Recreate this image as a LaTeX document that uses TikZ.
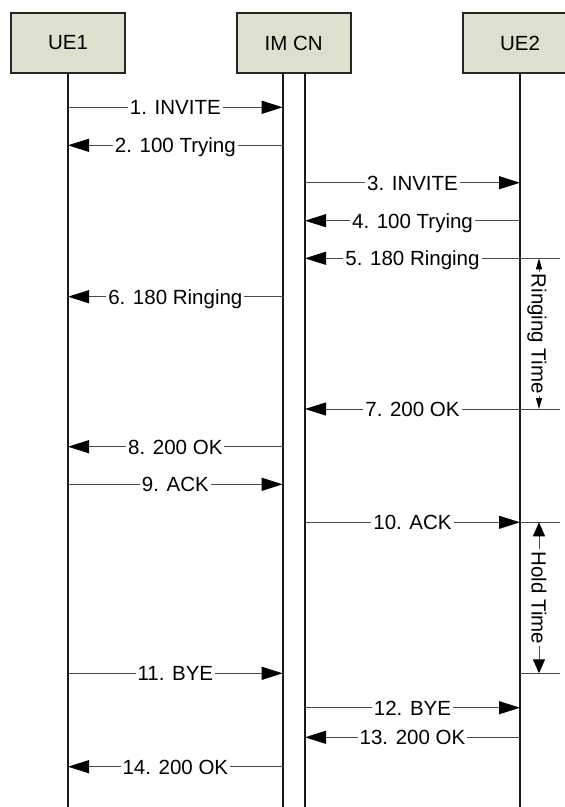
\documentclass[tikz,border=0pt]{standalone}
\usepackage{fontspec}
\setmainfont{Liberation Sans}
\usetikzlibrary{arrows.meta, positioning}
\definecolor{boxfill}{RGB}{221,224,205}
\tikzset{
x=1pt, y=-1pt, % one unit is one pixel of the sheet, y grows downwards
actor/.style={draw=black!85, line width=1.8pt, fill=boxfill, minimum width=114pt, minimum height=60pt}, % the boxes on top
life/.style={line width=2pt, black!90}, % the lifelines
msg/.style={line width=0.9pt, black!70}, % the message lines
lbl/.style={fill=white, text=black, inner xsep=2pt, inner ysep=0pt, text height=14.7pt, text depth=0pt}, % text breaks the line
}

\begin{document}
\begin{tikzpicture}[
  font=\fontsize{20.5}{24}\selectfont,
  tip/.style={-{Triangle[length=21pt, width=13pt, color=black]}},
  ringtip/.style={{Triangle[length=11pt, width=6pt, color=black]}-{Triangle[length=11pt, width=6pt, color=black]}},
  holdtip/.style={{Triangle[length=14pt, width=12pt, color=black]}-{Triangle[length=14pt, width=12pt, color=black]}},
  timelbl/.style={lbl, rotate=-90}
]
  \useasboundingbox (0,0) rectangle (565,807);

  \node[actor] (ue1) at (68,43) {UE1};
  \node[actor] (imcn) at (293.7,43) {IM CN};
  \node[actor] (ue2) at (520,43) {UE2};
  \coordinate (cnl) at (282.7,73);
  \coordinate (cnr) at (305,73);

  \draw[life] (ue1.south) -- (ue1.south |- 0,807);
  \draw[life] (cnl) -- (cnl |- 0,807);
  \draw[life] (cnr) -- (cnr |- 0,807);
  \draw[life] (ue2.south) -- (ue2.south |- 0,807);

  % messages
  \foreach \y/\a/\b/\txt in {
      107.3/ue1/cnl/1. INVITE,
      145.3/cnl/ue1/2. 100 Trying,
      182.7/cnr/ue2/3. INVITE,
      220.7/ue2/cnr/4. 100 Trying,
      258.3/ue2/cnr/5. 180 Ringing,
      296.7/cnl/ue1/6. 180 Ringing,
      409/ue2/cnr/7. 200 OK,
      446.7/cnl/ue1/8. 200 OK,
      484.3/ue1/cnl/9. ACK,
      522.3/cnr/ue2/10. ACK,
      673.3/ue1/cnl/11. BYE,
      707.7/cnr/ue2/12. BYE,
      737.3/ue2/cnr/13. 200 OK,
      766.7/cnl/ue1/14. 200 OK}
    \draw[msg, tip] (\a |- 0,\y) -- node[lbl] {\txt} (\b |- 0,\y);

  % ticks on the right of UE2
  \foreach \y/\n in {258.3/ra, 409/rb, 522.3/ha, 673.3/hb}
    \coordinate (\n) at (539,\y);
  \foreach \y in {258.3, 409, 522.3, 673.3}
    \draw[msg] (ue2 |- 0,\y) -- (560,\y);

  \draw[msg, ringtip] (ra) -- node[timelbl] {Ringing Time} (rb);
  \draw[msg, holdtip] (ha) -- node[timelbl] {Hold Time} (hb);
\end{tikzpicture}
\end{document}
